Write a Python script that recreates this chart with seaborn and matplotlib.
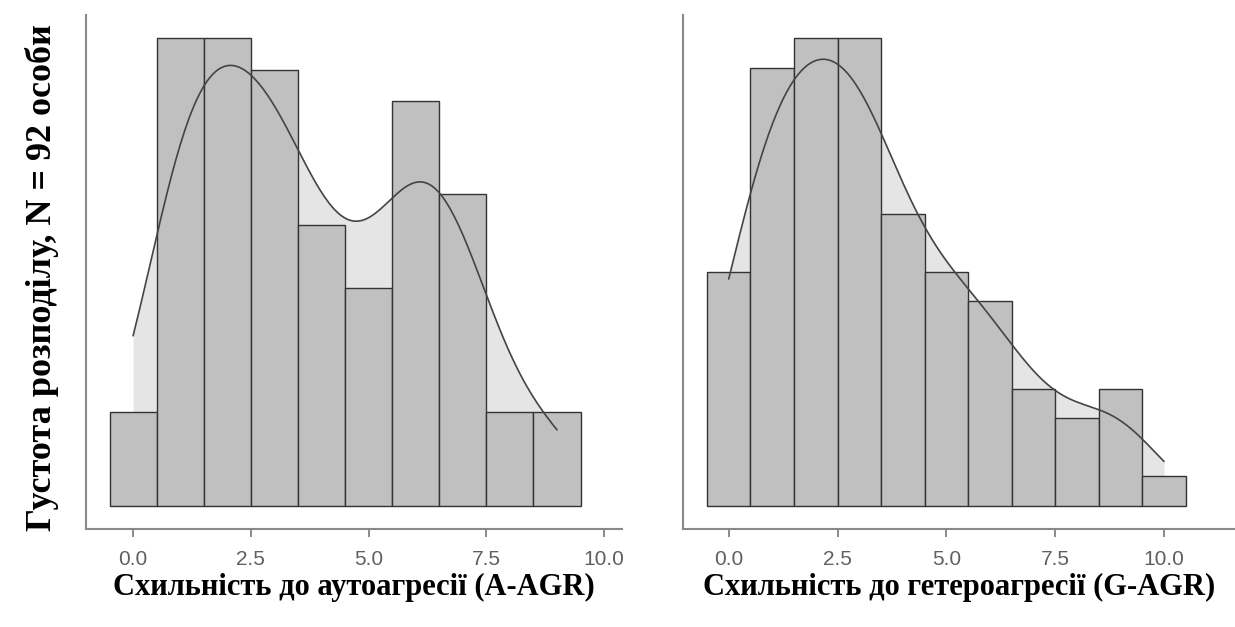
import numpy as np
import pandas as pd
import matplotlib
matplotlib.use("Agg")
import matplotlib.pyplot as plt
import seaborn as sns

# scores (0..max) and how many of the 92 people got each score
SCORES_A = [0, 1, 2, 3, 4, 5, 6, 7, 8, 9]
COUNTS_A = [3, 15, 15, 14, 9, 7, 13, 10, 3, 3]
SCORES_G = [0, 1, 2, 3, 4, 5, 6, 7, 8, 9, 10]
COUNTS_G = [8, 15, 16, 16, 10, 8, 7, 4, 3, 4, 1]

XLABEL_A = "Схильність до аутоагресії (A-AGR)"
XLABEL_G = "Схильність до гетероагресії (G-AGR)"
YLABEL = "Густота розподілу, N = 92 особи"
XTICKS = [0, 2.5, 5, 7.5, 10]

BAR = "#c0c0c0"
EDGE = "#333333"
KDE_FILL = "#e5e5e5"
KDE_LINE = "#444444"
SPINE = "#8a8a8a"

sns.set_theme(style="white")
plt.rcParams.update({
    "font.family": ["Liberation Sans", "DejaVu Sans"],
    "axes.spines.top": False, "axes.spines.right": False,
})


def nrd0_adjust(x):
    # R's bw.nrd0 expressed as a multiple of scipy's scott bandwidth
    sd = np.std(x, ddof=1)
    q1, q3 = np.percentile(x, [25, 75])
    return 0.9 * min(sd, (q3 - q1) / 1.34) / sd


fig = plt.figure(figsize=(12.35, 6.27), dpi=100)
ax1 = fig.add_axes([86 / 1235, 98 / 627, 536 / 1235, 514 / 627])
ax2 = fig.add_axes([683 / 1235, 98 / 627, 552 / 1235, 514 / 627])

panels = [(ax1, SCORES_A, COUNTS_A, XLABEL_A, (-1.0, 10.38)),
          (ax2, SCORES_G, COUNTS_G, XLABEL_G, (-1.05, 11.63))]

for ax, scores, counts, label, xlim in panels:
    df = pd.DataFrame({"score": np.repeat(scores, counts)})
    adj = nrd0_adjust(df.score)
    sns.kdeplot(data=df, x="score", bw_adjust=adj, cut=0, fill=True,
                color=KDE_FILL, alpha=1, linewidth=0, ax=ax, zorder=1)
    sns.histplot(data=df, x="score", discrete=True, stat="density",
                 color=BAR, alpha=1, edgecolor=EDGE, linewidth=1.0,
                 ax=ax, zorder=2)
    sns.kdeplot(data=df, x="score", bw_adjust=adj, cut=0,
                color=KDE_LINE, linewidth=1.2, ax=ax, zorder=3)
    top = max(counts) / len(df)
    ax.set_ylim(-0.05 * top, 1.05 * top)
    ax.set_xlim(*xlim)
    ax.set_xticks(XTICKS)
    ax.set_xticklabels([f"{t:.1f}" for t in XTICKS])
    ax.set_yticks([])
    ax.set_ylabel("")
    ax.tick_params(axis="x", direction="out", length=6, width=1.2,
                   color="#777777", labelcolor="#606060", labelsize=15, pad=9,
                   bottom=True)
    for s in ("left", "bottom"):
        ax.spines[s].set_color(SPINE)
        ax.spines[s].set_linewidth(1.5)
    ax.set_xlabel(label, fontfamily="Liberation Serif", fontweight="bold",
                  fontsize=22, labelpad=3, color="black")

fig.text(42 / 1235, 1 - 278 / 627, YLABEL, rotation=90, ha="center",
         va="center", fontfamily="Liberation Serif", fontweight="bold",
         fontsize=26, color="black")

fig.savefig("out.png", dpi=100)
